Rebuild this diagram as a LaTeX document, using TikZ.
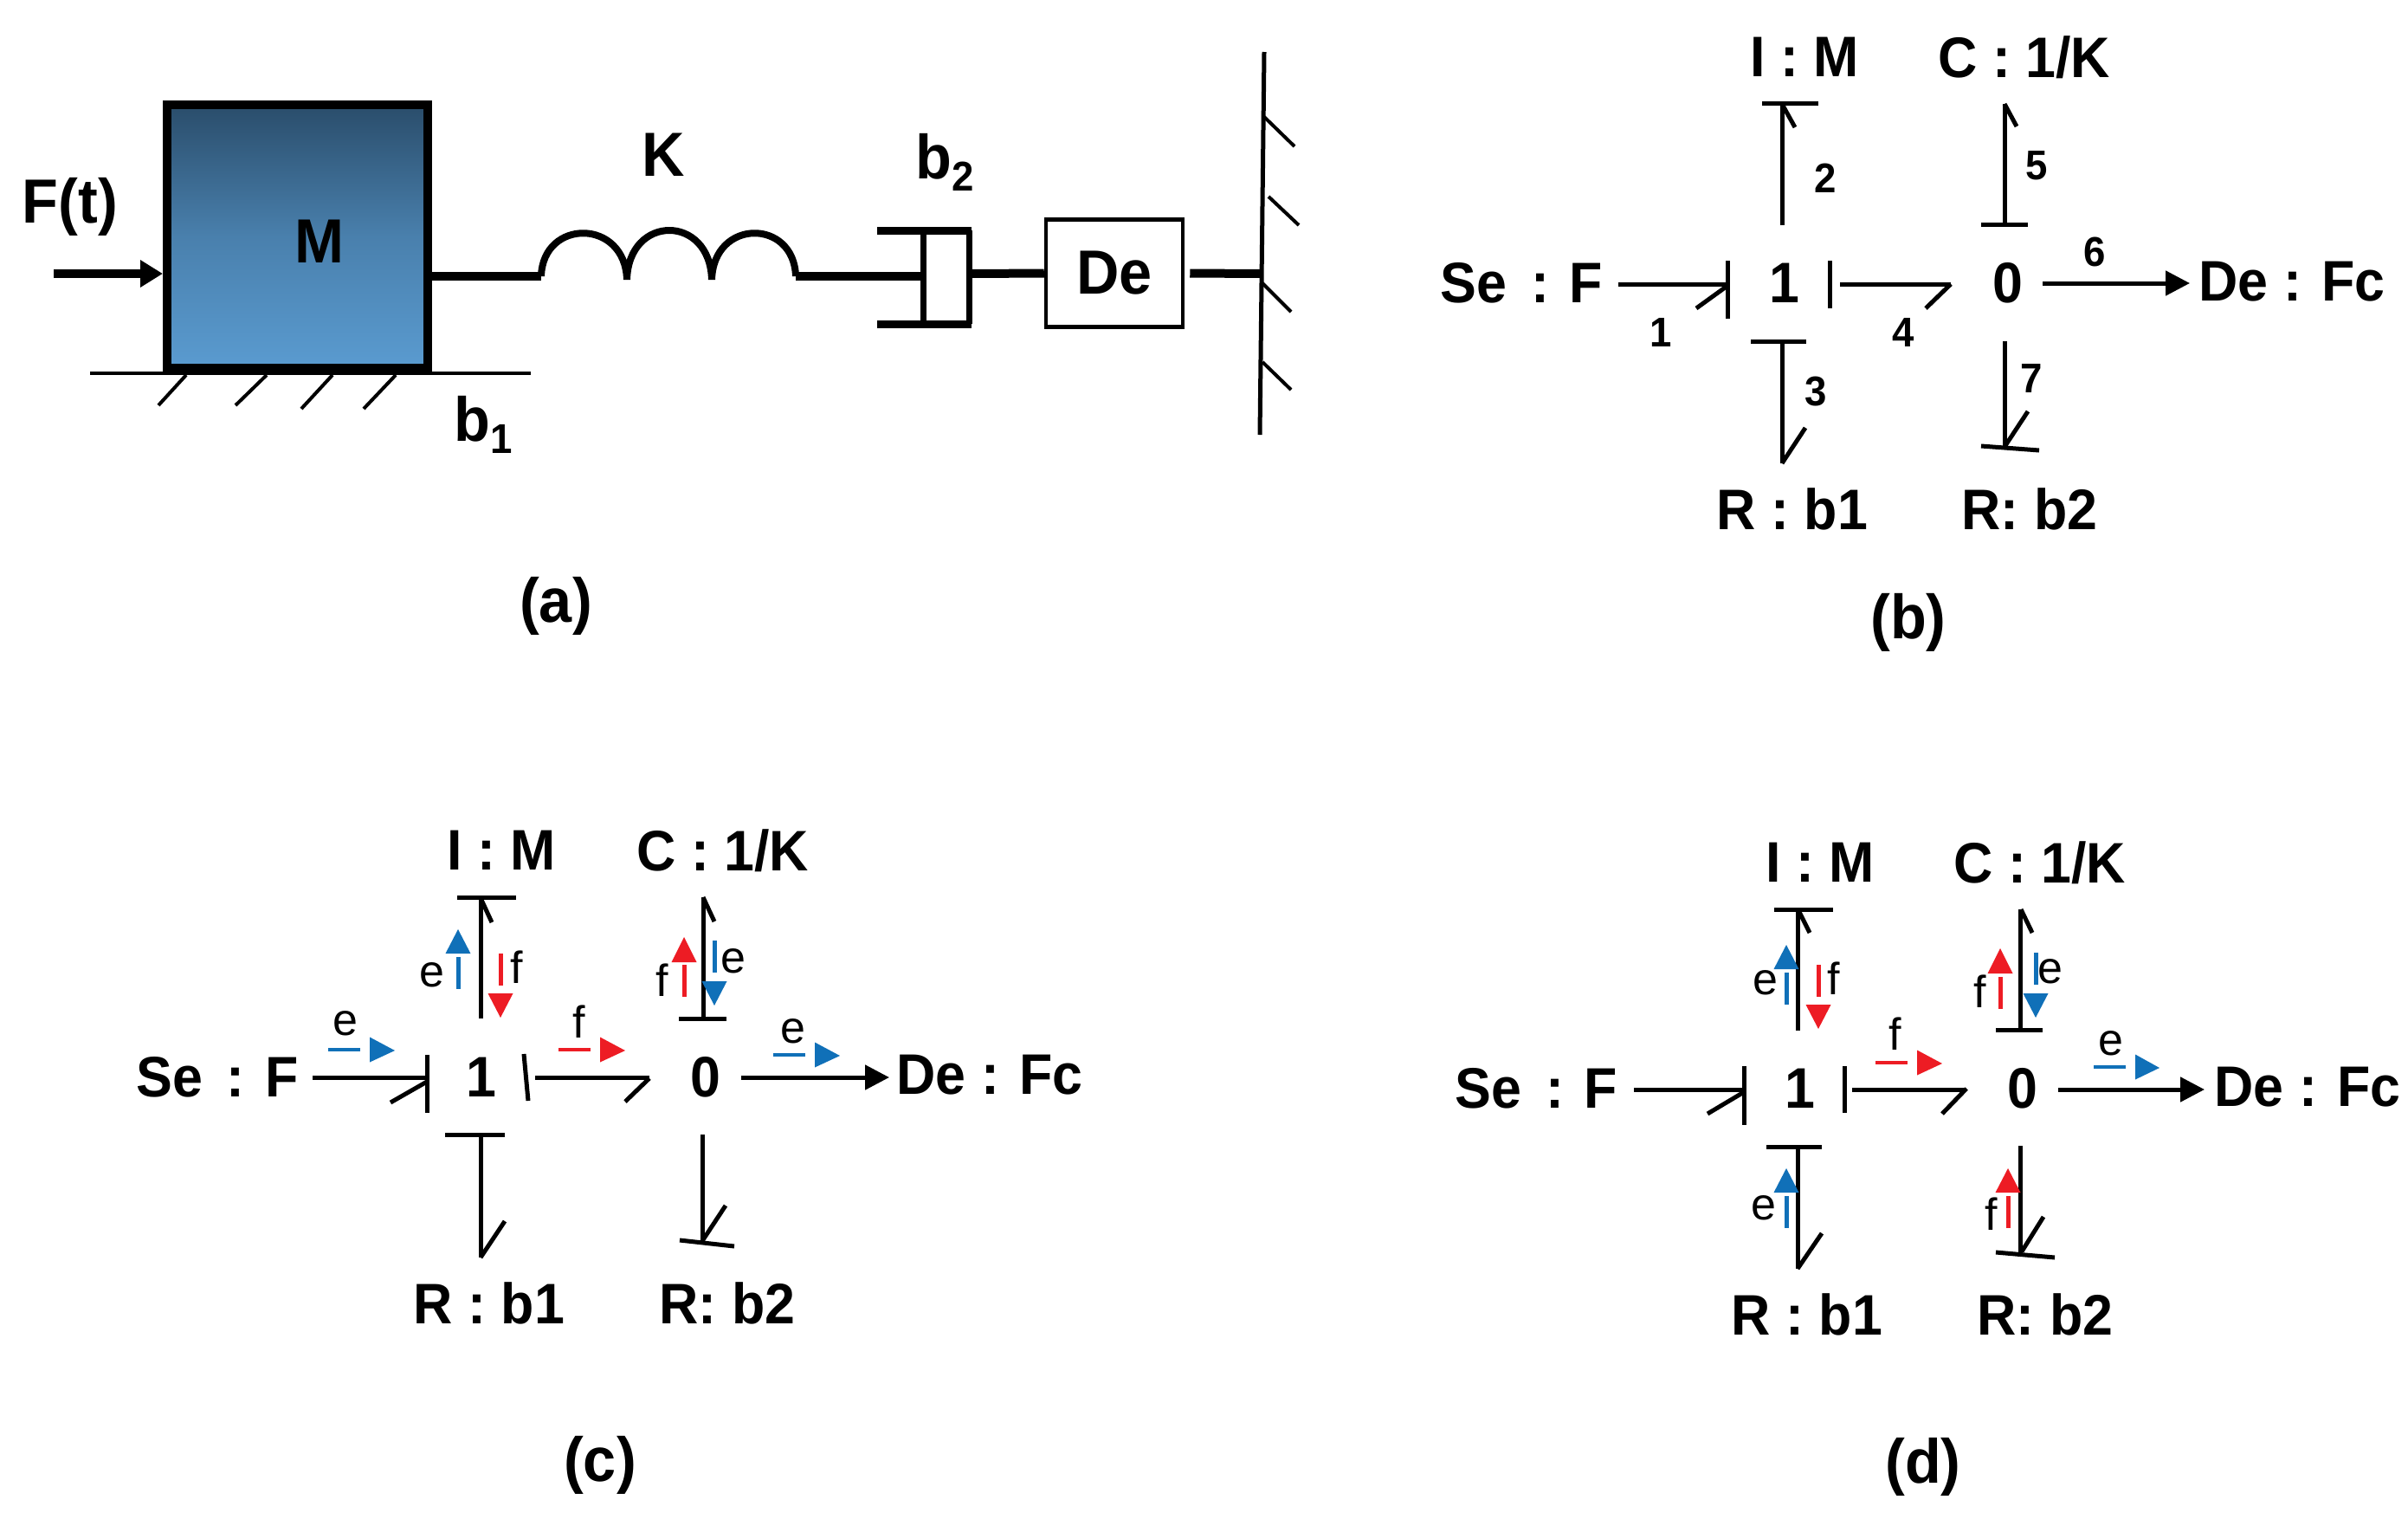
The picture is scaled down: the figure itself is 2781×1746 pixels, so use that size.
\documentclass[tikz,border=0pt]{standalone}
\usepackage{fontspec}
\setmainfont{Liberation Sans}
\newfontfamily\narrowbold[FakeStretch=0.95]{Liberation Sans Bold}
\usetikzlibrary{arrows.meta}
\definecolor{sigblue}{HTML}{1070B8}
\definecolor{sigred}{HTML}{ED1C24}
\definecolor{masstop}{HTML}{2A4D6B}
\definecolor{massbot}{HTML}{5A9BD0}
\tikzset{
  big/.style={inner sep=0pt,font=\fontsize{72}{80}\narrowbold\selectfont},
  lab/.style={inner sep=0pt,font=\fontsize{66}{70}\narrowbold\selectfont},
  num/.style={inner sep=0pt,font=\fontsize{48}{50}\narrowbold\selectfont},
  sig/.style={inner sep=0pt,font=\fontsize{52}{55}\selectfont},
  bond/.style={line width=5pt,line cap=butt},
  thick rod/.style={line width=10pt,line cap=butt},
  hatch/.style={line width=4pt},
  activearrow/.style={line width=5pt,-{Triangle[length=28pt,width=28pt]}},
}
% a connector between two named end coordinates
\newcommand{\link}[4][bond]{\coordinate (#2s) at (#3); \coordinate (#2e) at (#4); \draw[#1] (#2s) -- (#2e);}
% horizontal signal arrow: colour, dash x1, dash x2, y, tri x1, tri x2
\newcommand{\sigH}[6]{\draw[#1,line width=4.5pt] (#2,#4) -- (#3,#4); \fill[#1] (#5,#4-14.5) -- (#6,#4+1) -- (#5,#4+14.5) -- cycle;}
% vertical signal arrow: colour, x, dash y1, dash y2, tri base y, tri tip y, half width
\newcommand{\sigV}[7]{\draw[#1,line width=5pt] (#2,#3) -- (#2,#4); \fill[#1] (#2-#7,#5) -- (#2+#7,#5) -- (#2,#6) -- cycle;}
\begin{document}
\begin{tikzpicture}[x=1pt,y=-1pt]
\useasboundingbox (0,0) rectangle (2781,1746);
\fill[white] (0,0) rectangle (2781,1746);

% ---------- panel (a)
\node[draw=black,line width=10pt,minimum width=301pt,minimum height=304pt,inner sep=0pt,
      top color=masstop,bottom color=massbot,middle color=masstop!35!massbot] (mass) at (343.5,273) {};
\node[big] (massl) at (369,279) {M};
\node[big] (ft) at (81,239) {F(t)};
\coordinate (fs) at (62,316);
\draw[line width=10pt,-{Triangle[length=26pt,width=30pt,fill=black]}] (fs) -- (mass.west |- fs);
\link[line width=4.5pt]{ground}{104,431}{613,431}
\link[hatch]{ha}{215,433}{183,468}
\link[hatch]{hb}{308,433}{272,468}
\link[hatch]{hc}{384,433}{348,472}
\link[hatch]{hd}{457,433}{420,472}
\node[big] (bone) at (558,509) [anchor=base] {b\raisebox{-0.2em}{\fontsize{48}{50}\selectfont 1}};
\coordinate (sps) at (625,319);
\coordinate (spe) at (919,319);
\draw[thick rod] (mass.east |- sps) -- (sps);
\draw[line width=8pt] (sps) .. controls (627,252) and (722,252) .. (724,323)
  .. controls (726,247) and (820,247) .. (822,323)
  .. controls (824,252) and (917,252) .. (spe);
\node[big] (kl) at (766,179) {K};
\coordinate (dampl) at (1066,319);
\draw[thick rod] (spe) -- (dampl);
\link[line width=9pt]{dtop}{1013,266}{1122,266}
\link[line width=9pt]{dbot}{1013,374}{1122,374}
\link[line width=7pt]{dl}{1066,266}{1066,374}
\link[line width=7pt]{dr}{1119,266}{1119,374}
\node[big] (btwo) at (1091,206) [anchor=base] {b\raisebox{-0.2em}{\fontsize{48}{50}\selectfont 2}};
\node[draw=black,line width=4.5pt,minimum width=158pt,minimum height=124pt,inner sep=0pt,big] (debox) at (1287,315.5) {De};
\coordinate (rodr) at (1122,316);
\draw[thick rod] (rodr) -- (debox.west);
\coordinate (wallc) at (1457,316);
\draw[thick rod] ([xshift=6pt]debox.east) -- (wallc);
\link[line width=5pt]{wall}{1460,60}{1455,502}
\link[hatch]{wa}{1460,135}{1495,169}
\link[hatch]{wb}{1465,227}{1500,260}
\link[hatch]{wc}{1458,327}{1491,360}
\link[hatch]{wd}{1458,418}{1491,450}
\node[big] (capa) at (642,700) {(a)};

% ---------- panel (b)
\node[lab] (bim) at (2084,66) {I : M};
\node[lab] (bck) at (2338,66) {C : 1/K};
\node[lab] (bse) at (1757,327) {Se\hspace{0.42em}: F};
\node[lab] (bone) at (2061,327) {1};
\node[lab] (bzero) at (2319,327) {0};
\node[lab] (bde) at (2647,325) {De : Fc};
\node[lab] (brone) at (2070,588) {R : b1};
\node[lab] (brtwo) at (2344,588) {R: b2};
\node[big] (capb) at (2204,719) {(b)};
\node[num] (n1) at (1918,384) {1};
\node[num] (n2) at (2108,206) {2};
\node[num] (n3) at (2097,452) {3};
\node[num] (n4) at (2198,384) {4};
\node[num] (n5) at (2352,191) {5};
\node[num] (n6) at (2419,291) {6};
\node[num] (n7) at (2346,437) {7};
\link{ba}{1869,328}{1995,328}
\link{bab}{1995,301}{1995,368}
\link{bac}{1995,330}{1959,356}
\link{bb}{2113,301}{2113,356}
\link{bc}{2125,328}{2253,328}
\link{bcb}{2253,328}{2224,356}
\link{bd}{2058,260}{2058,120}
\link{bdb}{2035,119}{2100,119}
\link{bdc}{2058,120}{2073,147}
\link{be}{2058,394}{2058,535}
\link{beb}{2022,394}{2086,394}
\link{bec}{2058,535}{2085,494}
\link{bf}{2315,259}{2315,120}
\link{bfb}{2288,259}{2342,259}
\link{bfc}{2315,120}{2329,146}
\link{bg}{2315,394}{2315,518}
\link{bgb}{2288,515}{2355,520}
\link{bgc}{2315,516}{2342,475}
\coordinate (bos) at (2359,327); \coordinate (boe) at (2529,327);
\draw[activearrow] (bos) -- (boe);

% ---------- panel (c)
\node[lab] (cim) at (579,982) {I : M};
\node[lab] (cck) at (835,982) {C : 1/K};
\node[lab] (cse) at (251,1244) {Se\hspace{0.42em}: F};
\node[lab] (cone) at (556,1244) {1};
\node[lab] (czero) at (815,1244) {0};
\node[lab] (cde) at (1143,1241) {De : Fc};
\node[lab] (crone) at (565,1505) {R : b1};
\node[lab] (crtwo) at (840,1505) {R: b2};
\node[big] (capc) at (693,1692) {(c)};
\link{ca}{361,1244}{493,1244}
\link{cab}{493,1218}{493,1285}
\link{cac}{493,1249}{451,1273}
\link{cb}{605,1217}{610,1271}
\link{cc}{618,1244}{750,1244}
\link{ccb}{750,1245}{722,1272}
\link{cd}{555,1176}{555,1036}
\link{cdb}{528,1036}{596,1036}
\link{cdc}{556,1039}{568,1065}
\link{ce}{812,1176}{812,1036}
\link{ceb}{784,1176}{839,1176}
\link{cec}{812,1036}{825,1064}
\link{cf}{555,1310}{555,1452}
\link{cfb}{514,1310}{583,1310}
\link{cfc}{555,1452}{583,1410}
\link{cg}{811,1310}{811,1433}
\link{cgb}{785,1432}{848,1439}
\link{cgc}{811,1433}{838,1392}
\coordinate (cos) at (856,1244); \coordinate (coe) at (1027,1244);
\draw[activearrow] (cos) -- (coe);
\node[sig] (cse1) at (399,1182) {e};
\sigH{sigblue}{379}{416}{1212}{427}{456}
\node[sig] (csf1) at (669,1180) {f};
\sigH{sigred}{645}{682}{1212}{693}{722}
\node[sig] (cse2) at (916,1191) {e};
\sigH{sigblue}{893}{930}{1218}{941}{970}
\node[sig] (cse3) at (499,1126) {e};
\sigV{sigblue}{529}{1105}{1142}{1101}{1073}{14.5}
\node[sig] (csf3) at (597,1117) {f};
\sigV{sigred}{578}{1101}{1138}{1147}{1175}{14.5}
\node[sig] (csf4) at (765,1132) {f};
\sigV{sigred}{790}{1114}{1151}{1111}{1082}{14.5}
\node[sig] (cse4) at (847,1110) {e};
\sigV{sigblue}{825}{1086}{1123}{1133}{1161}{14.5}

% ---------- panel (d)
\node[lab] (dim) at (2102,996) {I : M};
\node[lab] (dck) at (2356,996) {C : 1/K};
\node[lab] (dse) at (1774,1257) {Se\hspace{0.42em}: F};
\node[lab] (done) at (2079,1257) {1};
\node[lab] (dzero) at (2336,1257) {0};
\node[lab] (dde) at (2665,1255) {De : Fc};
\node[lab] (drone) at (2087,1518) {R : b1};
\node[lab] (drtwo) at (2362,1518) {R: b2};
\node[big] (capd) at (2221,1694) {(d)};
\link{da}{1887,1258}{2014,1258}
\link{dab}{2014,1231}{2014,1299}
\link{dac}{2014,1261}{1972,1286}
\link{db}{2130,1231}{2130,1285}
\link{dc}{2139,1258}{2271,1258}
\link{dcb}{2271,1257}{2243,1286}
\link{dd}{2076,1190}{2076,1050}
\link{ddb}{2049,1050}{2117,1050}
\link{ddc}{2077,1051}{2090,1077}
\link{de}{2333,1189}{2333,1050}
\link{deb}{2305,1189}{2359,1189}
\link{dec}{2334,1050}{2347,1077}
\link{df}{2076,1324}{2076,1465}
\link{dfb}{2040,1324}{2104,1324}
\link{dfc}{2076,1465}{2104,1424}
\link{dg}{2333,1323}{2333,1447}
\link{dgb}{2305,1446}{2373,1452}
\link{dgc}{2335,1445}{2360,1405}
\coordinate (dos) at (2377,1258); \coordinate (doe) at (2546,1258);
\draw[activearrow] (dos) -- (doe);
\node[sig] (dsf1) at (2189,1194) {f};
\sigH{sigred}{2166}{2203}{1227}{2214}{2243}
\node[sig] (dse2) at (2438,1205) {e};
\sigH{sigblue}{2418}{2455}{1232}{2466}{2494}
\node[sig] (dse3) at (2039,1135) {e};
\sigV{sigblue}{2063}{1123}{1160}{1119}{1091}{14.5}
\node[sig] (dsf3) at (2118,1130) {f};
\sigV{sigred}{2100}{1114}{1151}{1160}{1188}{14.5}
\node[sig] (dsf4) at (2287,1145) {f};
\sigV{sigred}{2310}{1128}{1165}{1124}{1095}{14.5}
\node[sig] (dse4) at (2368,1122) {e};
\sigV{sigblue}{2351}{1100}{1137}{1147}{1175}{14.5}
\node[sig] (dse5) at (2037,1395) {e};
\sigV{sigblue}{2063}{1381}{1418}{1377}{1349}{14.5}
\node[sig] (dsf5) at (2300,1402) {f};
\sigV{sigred}{2319}{1381}{1418}{1377}{1349}{14.5}
\end{tikzpicture}
\end{document}
